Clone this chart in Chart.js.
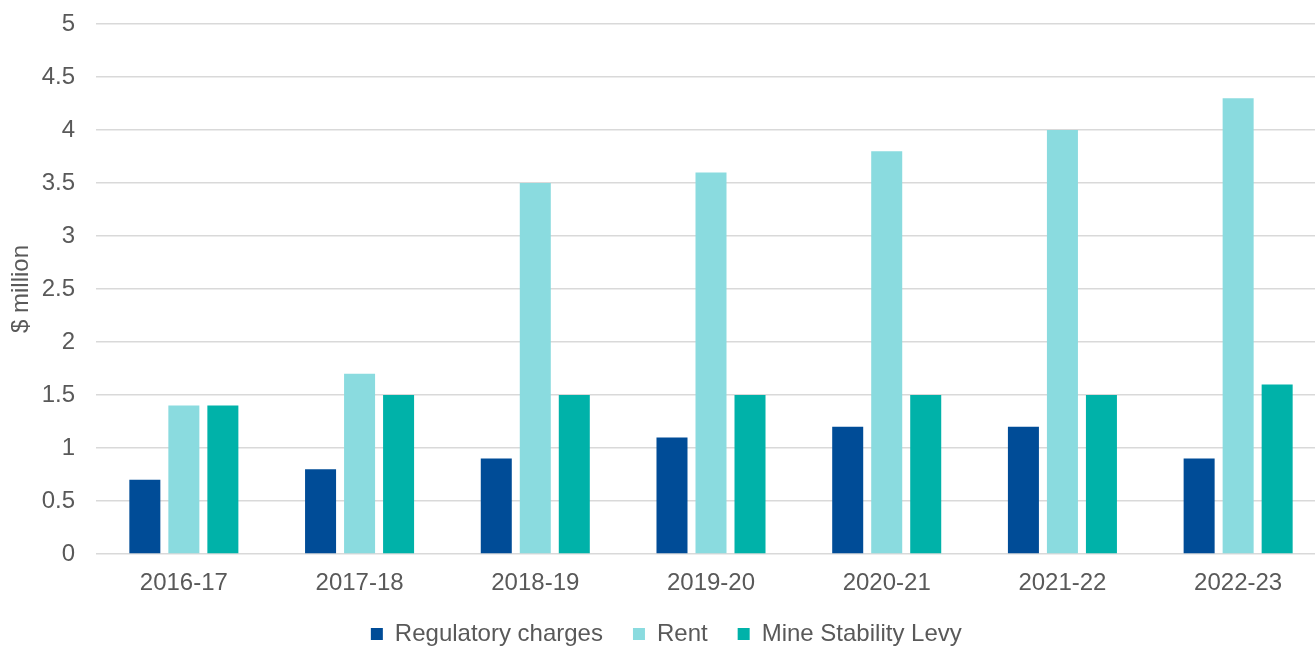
<!DOCTYPE html>
<html>
<head>
<meta charset="utf-8">
<script src="https://cdn.jsdelivr.net/npm/chart.js@4/dist/chart.umd.min.js"></script>
<style>
  html, body { margin: 0; padding: 0; background: #fff; overflow: hidden; }
  #frame { width: 1315px; height: 648px; overflow: hidden; position: relative; }
  #wrap { width: 1326px; height: 656px; position: absolute; left: 0; top: 0; }
</style>
</head>
<body>
<div id="frame"><div id="wrap"><canvas id="chart"></canvas></div></div>
<script>
// values
var years = ['2016-17', '2017-18', '2018-19', '2019-20', '2020-21', '2021-22', '2022-23'];
var regulatory = [0.7, 0.8, 0.9, 1.1, 1.2, 1.2, 0.9];
var rent = [1.4, 1.7, 3.5, 3.6, 3.8, 4.0, 4.3];
var levy = [1.4, 1.5, 1.5, 1.5, 1.5, 1.5, 1.6];
var yTicks = [0, 0.5, 1, 1.5, 2, 2.5, 3, 3.5, 4, 4.5, 5];

Chart.defaults.font.family = '"Liberation Sans", Arial, sans-serif';
Chart.defaults.color = '#595959';

new Chart(document.getElementById('chart').getContext('2d'), {
  type: 'bar',
  data: {
    labels: years,
    datasets: [
      { label: 'Regulatory charges', data: regulatory, backgroundColor: '#004C97' },
      { label: 'Rent', data: rent, backgroundColor: '#8ADBDF' },
      { label: 'Mine Stability Levy', data: levy, backgroundColor: '#00B2A9' }
    ]
  },
  options: {
    responsive: true,
    maintainAspectRatio: false,
    animation: false,
    categoryPercentage: 0.666,
    barPercentage: 0.795,
    layout: { padding: { top: 24, right: 0, left: 6.6, bottom: 0 } },
    plugins: {
      legend: {
        position: 'bottom',
        labels: {
          font: { size: 24 },
          boxWidth: 12,
          boxHeight: 12,
          padding: 30
        }
      },
      tooltip: { enabled: false }
    },
    scales: {
      x: {
        grid: { display: false, drawTicks: false },
        border: { display: false },
        ticks: { font: { size: 24 }, padding: 15 },
        afterFit: function(scale) { scale.height = 38; }
      },
      y: {
        min: 0,
        max: 5,
        afterBuildTicks: function(axis) {
          axis.ticks = yTicks.map(function(v) { return { value: v }; });
        },
        afterFit: function(scale) {
          scale.width = 89.4;
          scale.paddingTop = 0;
          scale.paddingBottom = 0;
        },
        grid: { color: '#d9d9d9', lineWidth: 1.5, drawTicks: false },
        border: { display: false },
        ticks: {
          font: { size: 24 },
          padding: 21,
          callback: function(v) { return String(v); }
        },
        title: { display: true, text: '$ million', font: { size: 24 }, padding: { top: 0, bottom: 6.6 } }
      }
    }
  }
});
</script>
</body>
</html>
